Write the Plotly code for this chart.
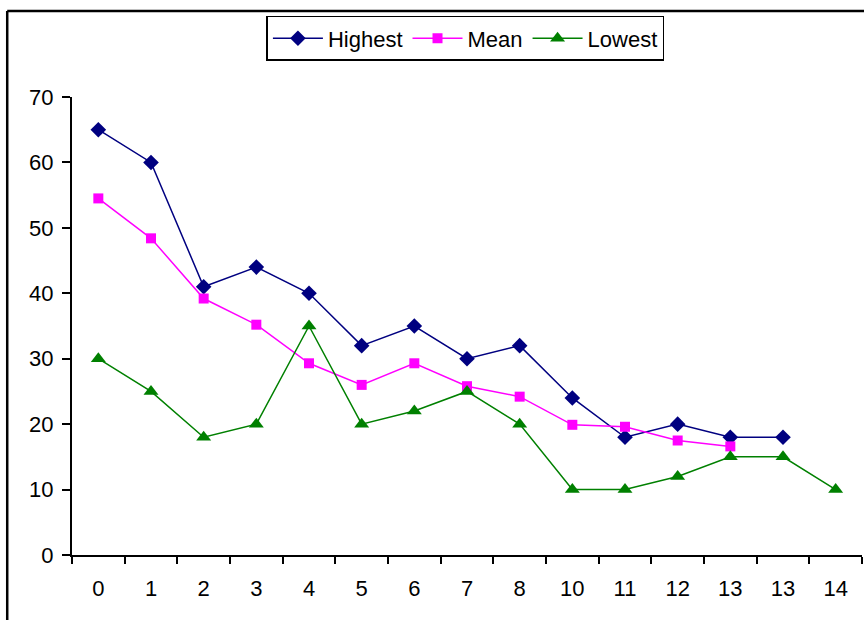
import plotly.graph_objects as go

categories = ["0", "1", "2", "3", "4", "5", "6", "7", "8", "10", "11", "12", "13", "13", "14"]
highest = [65, 60, 41, 44, 40, 32, 35, 30, 32, 24, 18, 20, 18, 18, None]
mean = [54.5, 48.4, 39.2, 35.2, 29.3, 26.0, 29.3, 25.8, 24.2, 19.9, 19.6, 17.5, 16.6, None, None]
lowest = [30, 25, 18, 20, 35, 20, 22, 25, 20, 10, 10, 12, 15, 15, 10]

xpos = list(range(len(categories)))

fig = go.Figure()
fig.add_trace(go.Scatter(x=xpos, y=highest, name="Highest", mode="lines+markers",
                         line=dict(color="#000080", width=1.5),
                         marker=dict(symbol="diamond", size=12, color="#000080")))
fig.add_trace(go.Scatter(x=xpos, y=mean, name="Mean", mode="lines+markers",
                         line=dict(color="#FF00FF", width=1.5),
                         marker=dict(symbol="square", size=10, color="#FF00FF")))
fig.add_trace(go.Scatter(x=xpos, y=lowest, name="Lowest", mode="lines+markers",
                         line=dict(color="#008000", width=1.5),
                         marker=dict(symbol="triangle-up", size=13, color="#008000")))

fig.update_layout(
    width=864, height=620,
    margin=dict(l=72, r=2, t=97, b=65),
    paper_bgcolor="white", plot_bgcolor="white",
    font=dict(family="Liberation Sans, Arial, sans-serif", size=22, color="black"),
    showlegend=True,
    legend=dict(orientation="h", x=0.498, y=1.177, xanchor="center", yanchor="top",
                bordercolor="black", borderwidth=1.5, bgcolor="white",
                font=dict(size=22), itemwidth=50, tracegroupgap=0),
    xaxis=dict(range=[-0.5, len(categories) - 0.5], tickmode="array", tickvals=xpos,
               ticktext=categories, ticks="", showgrid=False, zeroline=False,
               showline=True, linecolor="black", linewidth=2, ticklabelstandoff=13,
               tickfont=dict(size=22),
               minor=dict(tickmode="linear", tick0=-0.5, dtick=1, ticks="outside",
                          ticklen=7, tickwidth=2, tickcolor="black", showgrid=False)),
    yaxis=dict(range=[0, 70], tickmode="linear", tick0=0, dtick=10, ticks="outside",
               ticklen=8, tickwidth=2, tickcolor="black", showgrid=False, zeroline=False,
               showline=True, linecolor="black", linewidth=2, ticklabelstandoff=4,
               tickfont=dict(size=22)),
    shapes=[
        dict(type="line", xref="paper", yref="paper", x0=-0.082, x1=1.1, y0=1.188, y1=1.188,
             line=dict(color="black", width=2.5)),
        dict(type="line", xref="paper", yref="paper", x0=-0.082, x1=-0.082, y0=1.188, y1=-0.2,
             line=dict(color="black", width=2.5)),
    ],
)

fig.write_html("out.html")
